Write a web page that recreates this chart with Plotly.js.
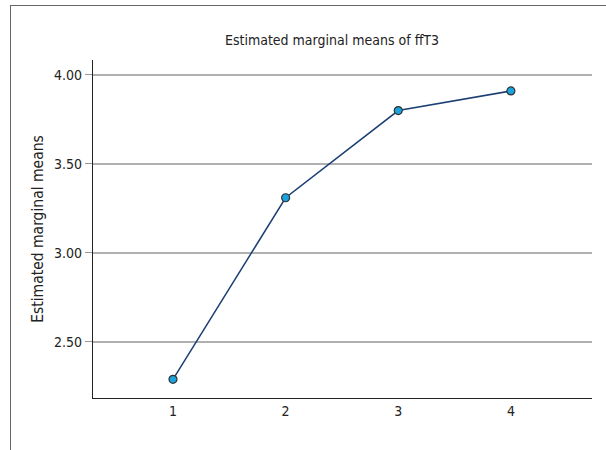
<!DOCTYPE html>
<html>
<head>
<meta charset="utf-8">
<script src="https://cdn.plot.ly/plotly-3.0.1.min.js"></script>
<style>
  html, body { margin: 0; padding: 0; width: 606px; height: 450px; overflow: hidden; background: #fff; }
  #frame { position: absolute; left: 10px; top: 5px; width: 700px; height: 600px; border: 1.5px solid #666; box-sizing: border-box; }
  #chart { position: absolute; left: 0; top: 0; width: 606px; height: 450px; }
</style>
</head>
<body>
<div id="frame"></div>
<div id="chart"></div>
<script>
const categories = [1, 2, 3, 4];
const tickLabels = ["1", "2", "3", "4"];
const means = [2.29, 3.31, 3.80, 3.91];
const yTicks = [2.5, 3.0, 3.5, 4.0];
const yTickLabels = ["2.50", "3.00", "3.50", "4.00"];

const FONT = '"Liberation Sans Narrow", "DejaVu Sans Condensed", "Roboto Condensed", sans-serif';

const trace = {
  x: categories,
  y: means,
  type: 'scatter',
  mode: 'lines+markers',
  line: { color: '#1c3f73', width: 1.5 },
  marker: { color: '#1aa3dc', size: 8, line: { color: '#333333', width: 1.2 } },
  hoverinfo: 'skip'
};

const layout = {
  width: 606,
  height: 450,
  margin: { l: 93, r: 14, t: 60, b: 52, pad: 0 },
  paper_bgcolor: 'rgba(0,0,0,0)',
  plot_bgcolor: 'rgba(0,0,0,0)',
  showlegend: false,
  font: { family: FONT, size: 13, color: '#222' },
  title: {
    text: 'Estimated marginal means of ffT3',
    font: { family: FONT, size: 14, color: '#222' },
    x: 332 / 606, xref: 'container', xanchor: 'center',
    y: 1 - 40 / 450, yref: 'container', yanchor: 'middle'
  },
  xaxis: {
    range: [0.29, 4.72],
    tickmode: 'array',
    tickvals: categories,
    ticktext: tickLabels,
    showgrid: false,
    zeroline: false,
    showline: true,
    linecolor: '#222',
    linewidth: 1.2,
    ticks: '',
    ticklen: 0,
    tickfont: { family: FONT, size: 14, color: '#222' },
    fixedrange: true
  },
  yaxis: {
    range: [2.185, 4.084],
    tickmode: 'array',
    tickvals: yTicks,
    ticktext: yTickLabels,
    showgrid: true,
    gridcolor: '#b0b0b0',
    gridwidth: 1.5,
    zeroline: false,
    showline: true,
    linecolor: '#222',
    linewidth: 1.2,
    ticks: 'outside',
    ticklen: 7,
    tickcolor: '#999',
    tickwidth: 1,
    tickfont: { family: FONT, size: 14, color: '#222' },
    title: {
      text: 'Estimated marginal means',
      font: { family: FONT, size: 15.5, color: '#222' },
      standoff: 6
    },
    fixedrange: true
  }
};

Plotly.newPlot('chart', [trace], layout, { staticPlot: true, displayModeBar: false });
</script>
</body>
</html>
